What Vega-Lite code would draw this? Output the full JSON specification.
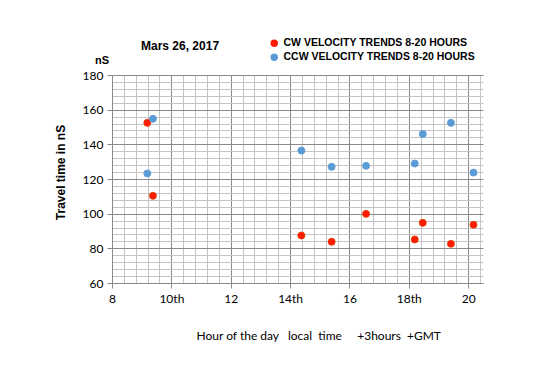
{
  "$schema": "https://vega.github.io/schema/vega-lite/v6.json",
  "autosize": "none",
  "width": 371,
  "height": 208,
  "padding": {"left": 112, "top": 75, "right": 67, "bottom": 97},
  "background": "white",
  "config": {"view": {"stroke": null}},
  "data": {"values": [
    {"hour": 9.19, "time": 152.4, "series": "CW VELOCITY TRENDS 8-20 HOURS"},
    {"hour": 9.38, "time": 110.3, "series": "CW VELOCITY TRENDS 8-20 HOURS"},
    {"hour": 14.38, "time": 87.4, "series": "CW VELOCITY TRENDS 8-20 HOURS"},
    {"hour": 15.40, "time": 83.8, "series": "CW VELOCITY TRENDS 8-20 HOURS"},
    {"hour": 16.56, "time": 99.9, "series": "CW VELOCITY TRENDS 8-20 HOURS"},
    {"hour": 18.20, "time": 85.1, "series": "CW VELOCITY TRENDS 8-20 HOURS"},
    {"hour": 18.47, "time": 94.7, "series": "CW VELOCITY TRENDS 8-20 HOURS"},
    {"hour": 19.42, "time": 82.6, "series": "CW VELOCITY TRENDS 8-20 HOURS"},
    {"hour": 20.18, "time": 93.6, "series": "CW VELOCITY TRENDS 8-20 HOURS"},
    {"hour": 9.19, "time": 123.2, "series": "CCW VELOCITY TRENDS 8-20 HOURS"},
    {"hour": 9.38, "time": 154.7, "series": "CCW VELOCITY TRENDS 8-20 HOURS"},
    {"hour": 14.38, "time": 136.4, "series": "CCW VELOCITY TRENDS 8-20 HOURS"},
    {"hour": 15.40, "time": 127.0, "series": "CCW VELOCITY TRENDS 8-20 HOURS"},
    {"hour": 16.56, "time": 127.6, "series": "CCW VELOCITY TRENDS 8-20 HOURS"},
    {"hour": 18.20, "time": 128.9, "series": "CCW VELOCITY TRENDS 8-20 HOURS"},
    {"hour": 18.47, "time": 146.0, "series": "CCW VELOCITY TRENDS 8-20 HOURS"},
    {"hour": 19.42, "time": 152.4, "series": "CCW VELOCITY TRENDS 8-20 HOURS"},
    {"hour": 20.18, "time": 123.7, "series": "CCW VELOCITY TRENDS 8-20 HOURS"}
  ]},
  "layer": [
    {
      "mark": {"type": "circle", "size": 50, "opacity": 1, "strokeWidth": 0.8},
      "encoding": {
        "x": {"field": "hour", "type": "quantitative",
          "scale": {"domain": [8, 20.5], "nice": false, "zero": false},
          "axis": {
            "values": [8, 8.4, 8.8, 9.2, 9.6, 10, 10.4, 10.8, 11.2, 11.6, 12, 12.4, 12.8, 13.2, 13.6, 14, 14.4, 14.8, 15.2, 15.6, 16, 16.4, 16.8, 17.2, 17.6, 18, 18.4, 18.8, 19.2, 19.6, 20, 20.4],
            "tickCount": 200,
            "labelExpr": "datum.value % 2 === 0 ? (datum.value === 10 || datum.value === 14 || datum.value === 18 ? datum.value + 'th' : '' + datum.value) : ''",
            "labelOverlap": false,
            "grid": true,
            "gridColor": {"condition": {"test": "datum.value % 2 === 0", "value": "#8a8a8a"}, "value": "#c4c4c4"},
            "gridWidth": 1,
            "tickOpacity": {"condition": {"test": "datum.value % 2 === 0", "value": 1}, "value": 0},
            "tickColor": "#8a8a8a", "tickSize": 5,
            "domainColor": "#8a8a8a",
            "labelFont": "Lato", "labelFontSize": 12, "labelColor": "#000", "labelPadding": 5, "labelFlush": false,
            "title": "Hour of the day\u00a0\u00a0\u00a0local\u00a0\u00a0time\u00a0\u00a0\u00a0\u00a0\u00a0+3hours\u00a0\u00a0+GMT",
            "titleFont": "Lato", "titleFontSize": 12, "titleFontWeight": "normal", "titleColor": "#000",
            "titleX": 84, "titleY": 56, "titleAlign": "left", "titleBaseline": "alphabetic"
          }
        },
        "y": {"field": "time", "type": "quantitative",
          "scale": {"domain": [60, 180], "nice": false, "zero": false},
          "axis": {
            "values": [60, 64, 68, 72, 76, 80, 84, 88, 92, 96, 100, 104, 108, 112, 116, 120, 124, 128, 132, 136, 140, 144, 148, 152, 156, 160, 164, 168, 172, 176, 180],
            "tickCount": 200,
            "labelExpr": "datum.value % 20 === 0 ? '' + datum.value : ''",
            "labelOverlap": false,
            "grid": true,
            "gridColor": {"condition": {"test": "datum.value % 20 === 0", "value": "#8a8a8a"}, "value": "#c4c4c4"},
            "tickOpacity": {"condition": {"test": "datum.value % 20 === 0", "value": 1}, "value": 0},
            "tickColor": "#8a8a8a", "tickSize": 5,
            "domainColor": "#8a8a8a",
            "labelFont": "Lato", "labelFontSize": 12, "labelColor": "#000", "labelPadding": 4,
            "title": "Travel time in nS",
            "titleFont": "Liberation Sans", "titleFontSize": 12, "titleFontWeight": "bold", "titleColor": "#000",
            "titlePadding": 15, "titleY": 97
          }
        },
        "color": {"field": "series", "type": "nominal",
          "scale": {"domain": ["CW VELOCITY TRENDS 8-20 HOURS", "CCW VELOCITY TRENDS 8-20 HOURS"], "range": ["#ff1a00", "#5b9bd5"]},
          "legend": {"title": null, "orient": "none", "legendX": 157, "legendY": -37, "symbolType": "circle", "symbolSize": 55, "symbolStrokeWidth": 0,
            "labelFont": "Liberation Sans", "labelFontSize": 10.5, "labelFontWeight": "bold", "labelColor": "#000", "labelLimit": 400, "rowPadding": 3, "labelOffset": 4}
        },
        "stroke": {"field": "series", "type": "nominal",
          "scale": {"domain": ["CW VELOCITY TRENDS 8-20 HOURS", "CCW VELOCITY TRENDS 8-20 HOURS"], "range": ["#e04000", "#5b9bd5"]},
          "legend": null}
      }
    },
    {
      "data": {"values": [{}]},
      "mark": {"type": "text", "text": "nS", "font": "Liberation Sans", "fontSize": 11, "fontWeight": "bold", "color": "#000", "dx": -10, "dy": -14},
      "encoding": {"x": {"datum": 8, "type": "quantitative"}, "y": {"datum": 180, "type": "quantitative"}}
    },
    {
      "data": {"values": [{}]},
      "mark": {"type": "text", "text": "Mars 26, 2017", "font": "Liberation Sans", "fontSize": 12, "fontWeight": "bold", "color": "#000", "align": "left", "baseline": "alphabetic", "dx": 29, "dy": -25},
      "encoding": {"x": {"datum": 8, "type": "quantitative"}, "y": {"datum": 180, "type": "quantitative"}}
    }
  ]
}
